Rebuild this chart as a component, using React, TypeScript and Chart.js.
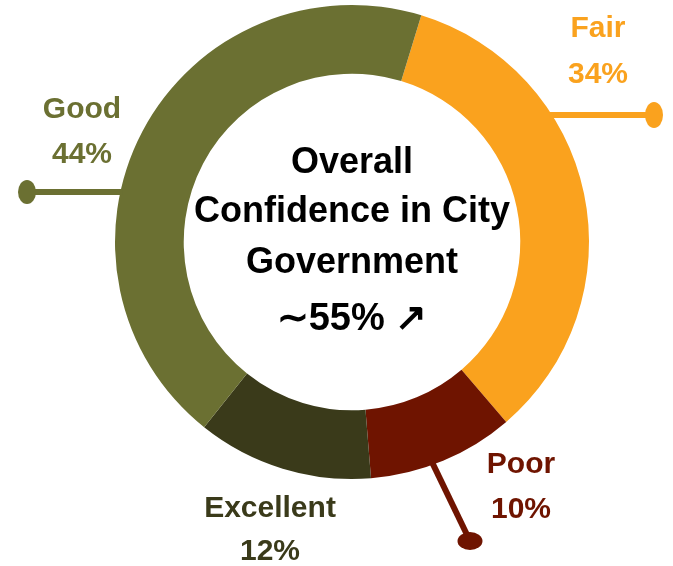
import React, { useEffect, useRef } from "react";
import { Chart, registerables } from "chart.js";

Chart.register(...registerables);

const categories = ["Fair", "Poor", "Excellent", "Good"];
const values = [34, 10, 12, 44];
const sliceColors = ["#FAA21E", "#6F1400", "#3A3A1A", "#6B7032"];
const centerLines = ["Overall", "Confidence in City", "Government", "\u223C55% \u2197"];

// label layout (not data): text centre x, baselines, leader mode, leader end, dot radii
const labelLayout = [
  { x: 598, y1: 37, y2: 83, mode: "right", angle: 0, ex: 654, ey: 115, rx: 9, ry: 13 },
  { x: 521, y1: 473, y2: 518, mode: "angle", angle: 160, ex: 470, ey: 541, rx: 12.5, ry: 9 },
  { x: 270, y1: 517, y2: 560, mode: "none", angle: 0, ex: 0, ey: 0, rx: 0, ry: 0 },
  { x: 82, y1: 118, y2: 163, mode: "left", angle: 0, ex: 27, ey: 192, rx: 9, ry: 12 },
];

const FONT = "'Liberation Sans', Arial, sans-serif";

const annotPlugin = {
  id: "annot",
  afterDraw(chart: any) {
    const ctx = chart.ctx;
    const meta = chart.getDatasetMeta(0);
    ctx.save();
    meta.data.forEach((arc: any, i: number) => {
      const p = arc.getProps(["x", "y", "outerRadius"], true);
      const L = labelLayout[i];
      const col = sliceColors[i];
      if (L.mode !== "none") {
        const r = p.outerRadius - 2;
        let sx = 0;
        let sy = 0;
        if (L.mode === "angle") {
          const a = ((L.angle - 90) * Math.PI) / 180;
          sx = p.x + r * Math.cos(a);
          sy = p.y + r * Math.sin(a);
        } else {
          const dy = L.ey - p.y;
          const dx = Math.sqrt(Math.max(r * r - dy * dy, 0));
          sx = L.mode === "right" ? p.x + dx : p.x - dx;
          sy = L.ey;
        }
        ctx.strokeStyle = col;
        ctx.lineWidth = 6;
        ctx.beginPath();
        ctx.moveTo(sx, sy);
        ctx.lineTo(L.ex, L.ey);
        ctx.stroke();
        ctx.fillStyle = col;
        ctx.beginPath();
        ctx.ellipse(L.ex, L.ey, L.rx, L.ry, 0, 0, Math.PI * 2);
        ctx.fill();
      }
      ctx.fillStyle = col;
      ctx.font = `bold 30px ${FONT}`;
      ctx.textAlign = "center";
      ctx.textBaseline = "alphabetic";
      ctx.fillText(categories[i], L.x, L.y1);
      ctx.fillText(`${values[i]}%`, L.x, L.y2);
    });
    const first = meta.data[0];
    if (first) {
      const c = first.getProps(["x", "y"], true);
      ctx.fillStyle = "#000";
      ctx.textAlign = "center";
      const baselines = [-69, -20, 31, 88];
      centerLines.forEach((t, k) => {
        ctx.font = k === 3 ? `bold 38px ${FONT}` : `bold 36px ${FONT}`;
        ctx.fillText(t, c.x, c.y + baselines[k]);
      });
    }
    ctx.restore();
  },
};

export default function App() {
  const ref = useRef<HTMLCanvasElement>(null);
  useEffect(() => {
    if (!ref.current) return;
    const chart = new Chart(ref.current, {
      type: "doughnut",
      data: {
        labels: categories,
        datasets: [
          {
            data: values,
            backgroundColor: sliceColors,
            borderWidth: 0,
            hoverOffset: 0,
          },
        ],
      },
      options: {
        animation: false,
        responsive: false,
        rotation: 17,
        radius: 237,
        cutout: "71%",
        layout: { padding: { left: 31, right: 0, top: 0, bottom: 82 } },
        plugins: { legend: { display: false }, tooltip: { enabled: false } },
      },
      plugins: [annotPlugin],
    });
    return () => chart.destroy();
  }, []);
  return (
    <div style={{ position: "fixed", left: 0, top: 0, width: 673, height: 566, background: "#fff" }}>
      <canvas ref={ref} width={673} height={566} style={{ width: 673, height: 566 }} />
    </div>
  );
}
